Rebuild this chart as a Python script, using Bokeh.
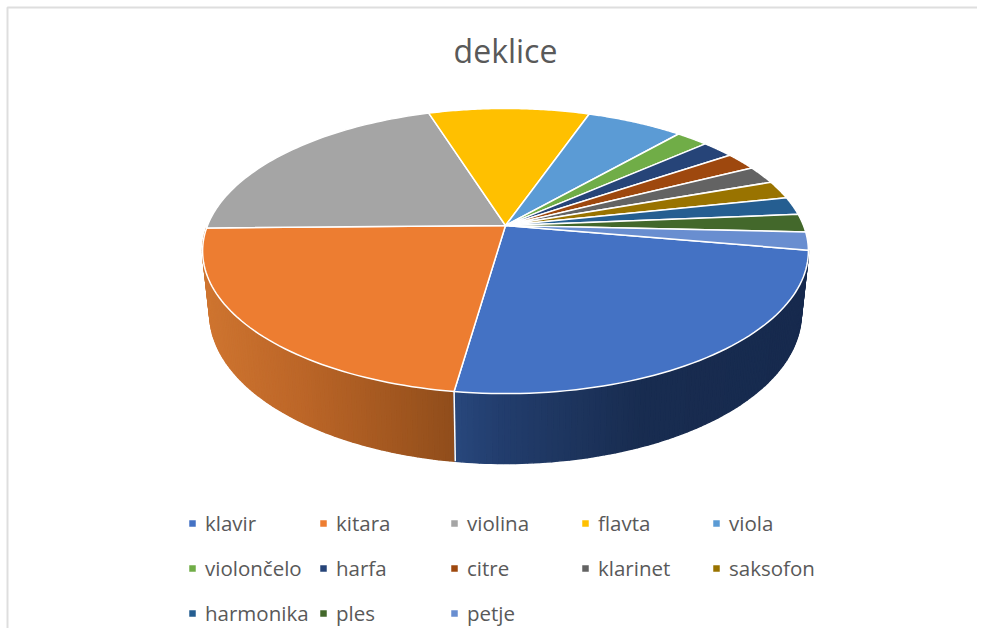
import numpy as np
from bokeh.plotting import figure, ColumnDataSource
from bokeh.models import Legend, LegendItem, Range1d
from bokeh.core.properties import value
from bokeh.embed import file_html
from bokeh.resources import INLINE

title = "deklice"
categories = ["klavir", "kitara", "violina", "flavta", "viola", "violončelo", "harfa",
              "citre", "klarinet", "saksofon", "harmonika", "ples", "petje"]
values = [12, 11, 10, 5, 3, 1, 1, 1, 1, 1, 1, 1, 1]
colors = ["#4472C4", "#ED7D31", "#A5A5A5", "#FFC000", "#5B9BD5", "#70AD47", "#264478",
          "#9E480E", "#636363", "#997300", "#255E91", "#43682B", "#698ED0"]

W, H = 977, 628
p = figure(width=W, height=H, output_backend="svg", toolbar_location=None,
           x_range=Range1d(0, W), y_range=Range1d(H, 0), min_border=0,
           outline_line_color=None, background_fill_color="white")
p.xaxis.visible = False
p.yaxis.visible = False
p.grid.visible = False

# projected circles (top face and lower rim of the 3D pie)
D = 0.179
def proj(t, cx, cy, R, k):
    t = np.radians(t)
    w = 1 / (1 - D * np.sin(t))
    return cx + R * np.cos(t) * w, cy + k * np.sin(t) * w
def top(t):
    return proj(t, 505, 225, 298, 138)
def low(t):
    return proj(t, 505, 286, 291, 145.3)

start = 10.0
edges = start + np.concatenate([[0], np.cumsum(values)]) * 360.0 / sum(values)

# frame of the chart area
p.line([7, 7, W], [H, 7, 7], line_color="#DEDEDE", line_width=2)

# wall shading: colour ramps read against x position
def hex2rgb(h):
    return np.array([int(h[i:i + 2], 16) for i in (1, 3, 5)], float)
ramps = {
    0: ([455, 500, 560, 640, 810], ["#28477C", "#223D6D", "#1E3660", "#182C50", "#172A4E"]),
    1: ([203, 300, 400, 456], ["#CF7530", "#BC6628", "#A0561F", "#8F4C1B"]),
}
def shade(i, x):
    xs, cs = ramps[i]
    rgb = np.array([hex2rgb(c) for c in cs])
    return "#%02x%02x%02x" % tuple(int(round(np.interp(x, xs, rgb[:, j]))) for j in range(3))

sx, sy, sc = [], [], []
for i in (1, 0):
    a, b = edges[i], edges[i + 1]
    ts = np.arange(a, b + 0.01, (b - a) / 90)
    for t0, t1 in zip(ts[:-1], ts[1:]):
        x0, y0 = top(t0); x1, y1 = top(t1)
        x2, y2 = low(t1); x3, y3 = low(t0)
        sx.append([x0, x1, x2, x3]); sy.append([y0, y1, y2, y3])
        sc.append(shade(i, (x0 + x1 + x2 + x3) / 4))
p.patches("x", "y", fill_color="c", line_color="c", line_width=1.5,
          source=ColumnDataSource(dict(x=sx, y=sy, c=sc)))

# white seam between the two visible walls
xa, ya = top(edges[1]); xb, yb = low(edges[1])
p.line([xa, xb], [ya, yb], line_color="white", line_width=1.5)

# top faces
items = []
for i, name in enumerate(categories):
    ts = np.linspace(edges[i], edges[i + 1], 60)
    x, y = top(ts)
    r = p.patch(np.r_[505, x], np.r_[225, y], fill_color=colors[i], line_color="white",
                line_width=1.5, line_join="round")
    items.append(LegendItem(label=value(name), renderers=[r]))

p.text([505], [50], text=[title], text_font=value("Open Sans"), text_font_size="32px",
       text_color="#595959", text_align="center", text_baseline="middle")

legend = Legend(items=items, ncols=5, orientation="horizontal", location=(187, -3),
                glyph_width=10, glyph_height=10, label_standoff=8, label_width=104,
                label_height=36, spacing=9, margin=0, padding=0,
                label_text_font="Open Sans", label_text_font_size="20.5px",
                label_text_color="#595959", border_line_color=None,
                background_fill_alpha=0)
p.add_layout(legend)

open("out.html", "w").write(file_html(p, INLINE))
